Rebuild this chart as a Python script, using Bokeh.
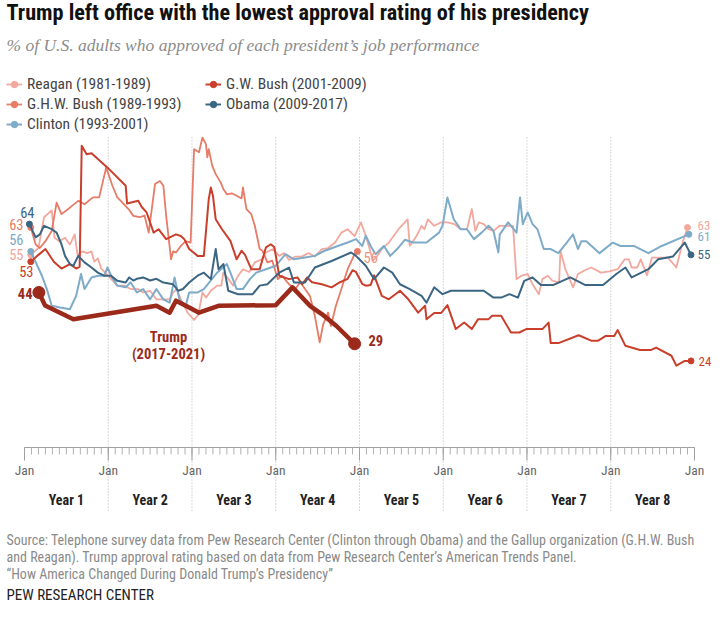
import numpy as np
from bokeh.plotting import figure
from bokeh.models import Range1d, Legend, LegendItem
from bokeh.core.properties import value
from bokeh.embed import file_html
from bokeh.resources import INLINE

# ---------------- data (months since inauguration, % approve) ----------------
reagan_m = [0.9,2.0,2.8,3.9,4.3,5.0,5.8,6.5,7.2,7.6,8.3,9.0,9.6,10.0,10.5,11.0,11.7,12.4,13.3,14.3,15.2,16.3,17.0,18.0,18.9,19.9,20.8,21.3,21.8,22.4,23.4,24.3,24.9,25.5,26.0,26.7,27.6,28.2,28.5,29.2,29.9,30.6,31.3,32.2,33.0,34.0,34.6,35.6,36.5,37.2,37.9,38.8,39.7,40.7,41.6,42.6,43.5,44.5,45.4,46.3,47.3,48.2,48.9,49.6,49.9,50.5,51.2,52.2,53.6,54.9,55.2,56.2,56.9,57.3,57.8,58.7,59.7,60.6,61.6,62.5,63.4,64.1,64.6,65.1,65.8,66.5,67.2,68.1,69.1,70.0,70.5,71.2,72.1,72.8,73.7,74.2,75.0,75.6,76.6,76.8,77.5,78.6,79.3,80.3,81.2,82.6,83.8,85.0,86.0,86.6,87.0,87.8,88.3,89.2,89.9,90.8,92.2,93.4,94.3,95.0]
reagan_v = [55,57,66,68,60,59,60,58,61,55,56,55.5,56,53,54,51,49.5,48,46,46,45,45,44,44.5,42,42,42,44,45,42,38,36,37.5,44,42.5,44.5,46,46,49.8,48,46,48.9,50.8,50,52.8,53.7,55.7,56.7,54.7,55.5,53.5,54.5,54.5,55.5,54.5,56.7,57,58.6,61.5,62.5,60.5,64.5,60.6,55.7,53.3,54.5,56.7,58.6,62.5,65.4,57.6,60.6,63.5,62.5,65.4,63.5,64.5,64.5,64,62.5,62.5,68.4,62,64.5,64,62.5,62,63.5,63.5,63.5,47.9,48.9,49.4,46.4,43.5,47.9,48.9,47.5,46.9,56.2,50.8,45.5,49.4,50.5,51.3,49.8,50.2,50.8,53.7,53.7,51.3,51.3,53.7,49,54.2,54.2,54.2,51.3,58.6,63]

ghwb_m = [0.9,1.6,2.2,3.0,3.9,4.6,5.3,6.5,7.7,8.6,9.8,10.7,11.7,12.6,13.3,13.8,14.9,15.6,16.5,17.2,17.8,18.7,19.4,19.9,20.3,21.0,21.3,21.7,22.4,23.1,23.8,24.3,25.0,25.5,26.0,26.2,26.4,26.9,27.4,28.1,28.5,29.0,29.7,30.4,31.1,31.3,31.8,32.5,33.0,33.7,34.1,34.8,35.5,36.3,36.9,37.9,38.8,39.5,40.2,40.9,41.6,42.3,42.8,43.5,43.9,44.6,45.4,46.3,47.3,47.7]
ghwb_v = [63,58,57,59,62,70.3,66.9,68.8,70.8,69.8,71.8,71.8,80.5,75.2,71.8,70.8,68.4,66.4,66,66.5,61.5,75.7,76.6,75.2,66.4,53.7,56,55.7,57.6,59,58.6,85.9,85,89.3,87.4,83.5,85.9,81,78.6,76.2,74.2,72.7,73,72.3,71.5,74.7,68.4,66.9,63.5,56.7,56.2,52.8,53.3,47.9,48.9,46.4,45,47,45,43,37.2,29.4,34.7,38.1,34.2,40,45,50.8,55.2,56]

clinton_m = [0.9,1.8,2.5,3.2,3.9,5.1,6.5,7.4,8.1,8.6,9.6,10.5,11.4,11.9,12.4,13.3,14.5,15.2,16.1,17.0,18.0,18.9,19.9,20.8,21.5,22.2,23.1,23.6,24.8,25.7,27.6,29.0,29.5,30.4,31.3,32.3,33.2,34.6,36.0,37.4,38.6,40.2,41.6,43.0,44.9,46.3,47.5,48.4,48.9,49.6,50.3,51.5,52.4,53.4,54.5,55.7,57.6,59.4,59.9,60.6,61.5,62.5,63.4,64.4,65.5,66.5,67.2,67.9,68.1,69.3,70.5,71.0,71.4,72.1,72.8,73.5,74.4,75.4,76.5,77.7,78.6,79.3,79.8,80.5,82.4,84.3,85.4,87.3,89.4,91.3,95.2]
clinton_v = [56,52,48.9,45,40.1,39.6,39.1,43,49.4,45,48.4,48.9,48.9,51.3,48.9,46,45.5,47,44,45,42,45,42,41,48.4,42,40.1,44,44,45,49.8,52.3,49.8,45,45,47.9,49.8,50.8,51.8,55.2,53.7,54.2,54.7,56.2,57.6,58.6,59.6,57.6,60.6,57.6,55.2,57.6,54.7,56.7,59.4,58.6,58.6,61.5,63.5,71.8,65.4,62.5,62.5,59.6,61.5,63.5,62,55.7,61,64.5,61.5,71.8,64,67.4,64,62.5,56.7,56.7,55.5,58.6,61,56.7,59,59,55.5,58.6,57.6,57.6,55.5,57.6,61]

gwbush_m = [0.9,2.0,3.0,4.2,5.3,6.5,7.4,7.9,8.2,8.9,9.6,11.9,14.5,14.7,16.3,16.8,17.5,18.5,19.2,20.3,21.7,22.4,22.9,23.6,24.8,25.7,26.4,26.7,27.0,27.4,28.3,29.5,30.4,31.1,31.6,32.5,33.7,34.6,35.3,35.8,36.5,37.9,39.1,39.8,40.5,41.2,42.6,44.0,45.2,46.3,47.0,47.5,48.4,48.9,49.6,50.1,51.2,52.2,53.8,55.0,56.4,57.4,57.6,58.7,59.7,60.6,61.8,63.0,64.1,65.0,66.5,67.0,68.3,69.7,70.9,71.9,74.2,75.1,75.4,76.5,79.4,81.2,82.2,83.3,84.5,85.0,86.1,88.2,89.8,90.5,92.7,93.4,94.6,95.5]
gwbush_v = [53,55,56.7,53,51,52.3,51,51.5,86.9,84.4,84.7,80.5,75.2,70,70.8,69,67.4,61.5,62.5,59.6,61,60.5,59.6,56.7,54.7,54.7,71.3,74.7,72.3,65.4,62.5,59.1,53.7,56.2,55,50.8,50.8,57.2,58.1,57.2,48.9,47.9,48.4,46.4,48.4,47,46.4,45.5,47,48,50.5,50,46.5,46,46.2,49,43,42,44.5,42,38.1,40.1,36.2,38,38,40.3,33.3,35.2,33.3,36.2,36.2,37.2,37.2,32.3,32.3,33.3,33.3,35.2,29.2,29.2,31.5,29.9,29.9,31.3,31.3,33,28.4,27.2,27.2,27.9,25.5,22.6,24,24]

obama_m = [0.7,1.6,2.2,2.8,3.9,4.6,5.3,5.8,6.5,7.0,7.7,8.6,9.6,10.5,11.4,12.4,13.3,14.5,15.0,15.6,16.1,17.0,18.0,18.9,19.9,21.3,22.0,22.7,23.6,24.8,25.7,26.7,27.4,27.8,28.5,29.2,30.6,32.7,33.7,34.8,36.5,37.9,38.6,40.2,41.6,44.0,46.8,47.5,48.9,50.1,51.5,52.7,53.8,55.2,56.9,57.6,58.7,59.9,61.1,63.4,65.8,67.2,68.3,69.5,70.7,71.6,72.8,74.0,75.8,78.2,80.3,82.9,84.8,86.1,87.0,89.4,90.8,92.9,94.6,95.5]
obama_v = [64,60.1,61,63.5,62.5,61.5,58.1,54.7,52.3,51.8,54.7,52.8,51.3,49.8,48.9,48.9,47.4,46.9,48.4,47.5,48,48.4,47.5,48,46.9,46.4,44.5,45,46.9,48.9,49.8,47.9,56.7,50.8,52.3,44.5,43.5,43.5,46,46.4,49.8,51.3,46.9,46.9,51.3,53.2,55.7,54.7,51.8,47.9,51.3,49.8,46.4,45,43,41,45.5,43.5,44.5,44.5,44.5,42.5,42.5,43.5,42.5,47.4,48.4,46.2,46.2,48.4,46.2,46.2,49.4,51.3,48.4,50.8,53.7,54.5,58.6,55]

trump_m = [2.06,2.95,7.0,18.9,20.8,21.7,23.6,25.0,27.8,36.0,38.4,40.9,42.6,44.7,47.3]
trump_v = [44,40.2,36.2,40.1,38.1,41.6,39.6,38.1,40.1,40.3,45.5,40.1,37.7,34.2,29]

tick_months = list(range(0, 97))
jan_months = [0, 12, 24, 36, 48, 60, 72, 84, 96]
jan_labels = ["Jan"] * 9
grid_months = [12, 24, 36, 48, 60, 72, 84]
year_months = [6, 18, 30, 42, 54, 66, 78, 90]
year_labels = ["Year 1", "Year 2", "Year 3", "Year 4", "Year 5", "Year 6", "Year 7", "Year 8"]

# ---------------- styling ----------------
C_REAGAN = "#f3a89e"
C_GHWB = "#e67b67"
C_GWB = "#c93f2c"
C_OBAMA = "#3b6683"
C_CLINTON = "#7eabc8"
C_TRUMP = "#9b2a1b"
NARROW = "Roboto Condensed, Roboto, sans-serif"
SERIF = "Liberation Serif"

W, H = 712, 603
PX0, PXM = 32.0, 6.979     # page x of month 0, px per month
PY63, PYV = 235.0, 3.42    # page y of 63%, px per point


def X(px):
    return (px - PX0) / PXM


def Y(py):
    return 63 - (py - PY63) / PYV


p = figure(width=W, height=H, output_backend="svg", toolbar_location=None,
           x_range=Range1d(X(8), X(8 + W)), y_range=Range1d(Y(8 + H), Y(8)),
           x_axis_location=None, y_axis_location=None, min_border=0)
p.outline_line_color = None
p.grid.visible = False
p.background_fill_color = "white"


def txt(px, py, s, color, size, bold=False, align="left", font=NARROW, italic=False):
    style = "bold" if bold else ("italic" if italic else "normal")
    p.text(x=[X(px)], y=[Y(py)], text=[s], text_color=color, text_font=value(font),
           text_font_size=f"{size}px", text_font_style=style, text_align=align,
           text_baseline="middle")


# gridlines (dotted, at each January)
p.segment(x0=grid_months, x1=grid_months, y0=[Y(145)] * len(grid_months),
          y1=[Y(520)] * len(grid_months), line_color="#b5b5b5", line_width=1,
          line_dash="1 2")

# x axis: baseline, minor and major ticks, labels
p.segment(x0=[0], x1=[96], y0=[Y(455)], y1=[Y(455)], line_color="#a0a0a0", line_width=1)
p.segment(x0=tick_months, x1=tick_months, y0=[Y(455)] * len(tick_months),
          y1=[Y(462)] * len(tick_months), line_color="#b0b0b0", line_width=1)
p.segment(x0=jan_months, x1=jan_months, y0=[Y(455)] * len(jan_months),
          y1=[Y(468)] * len(jan_months), line_color="#a0a0a0", line_width=1)
p.text(x=jan_months, y=[Y(477)] * len(jan_months), text=jan_labels, text_color="#666666",
       text_font=value(NARROW), text_font_size="13.5px", text_align="center",
       text_baseline="middle")
p.text(x=year_months, y=[Y(507)] * len(year_months), text=year_labels, text_color="#222222",
       text_font=value(NARROW), text_font_size="14px", text_font_style="bold",
       text_align="center", text_baseline="middle")

# series
series = [
    ("Reagan (1981-1989)", reagan_m, reagan_v, C_REAGAN, 1.8),
    ("G.H.W. Bush (1989-1993)", ghwb_m, ghwb_v, C_GHWB, 1.8),
    ("Clinton (1993-2001)", clinton_m, clinton_v, C_CLINTON, 2.0),
    ("G.W. Bush (2001-2009)", gwbush_m, gwbush_v, C_GWB, 2.0),
    ("Obama (2009-2017)", obama_m, obama_v, C_OBAMA, 2.0),
]
items = {}
for name, m, v, c, w in series:
    r = p.line(m, v, line_color=c, line_width=w, line_join="round")
    d = p.scatter([m[0], m[-1]], [v[0], v[-1]], size=6, color=c)
    items[name] = LegendItem(label=name, renderers=[r, d])

p.line(trump_m, trump_v, line_color=C_TRUMP, line_width=4.5, line_join="round", line_cap="round")
p.scatter([trump_m[0], trump_m[-1]], [trump_v[0], trump_v[-1]], size=12, color=C_TRUMP)

legend = Legend(items=[items["Reagan (1981-1989)"], items["G.H.W. Bush (1989-1993)"],
                       items["Clinton (1993-2001)"], items["G.W. Bush (2001-2009)"],
                       items["Obama (2009-2017)"]],
                location=(6, 469), orientation="vertical", nrows=3,
                glyph_width=16, glyph_height=20, label_height=20, label_standoff=5,
                spacing=0, padding=0, margin=0, label_width=178,
                border_line_color=None, background_fill_alpha=0,
                label_text_font=NARROW, label_text_font_size="15.5px",
                label_text_color="#444444")
p.add_layout(legend)

# end labels
txt(42, 220, "64", C_OBAMA, 14.5, align="right")
txt(31, 232, "63", C_GHWB, 14.5, align="right")
txt(31, 247, "56", C_CLINTON, 14.5, align="right")
txt(31, 262, "55", C_REAGAN, 14.5, align="right")
txt(41, 279, "53", C_GWB, 14.5, align="right")
txt(40, 301, "44", C_TRUMP, 14.5, bold=True, align="right")
txt(705, 233, "63", C_REAGAN, 13)
txt(705, 244, "61", C_CLINTON, 13)
txt(705, 262, "55", C_OBAMA, 13)
txt(706, 369, "24", C_GWB, 13)
txt(376, 348, "29", C_TRUMP, 14.5, bold=True)
txt(371, 265, "56", "#ee9585", 14.5)
txt(176, 345, "Trump", C_TRUMP, 14.5, bold=True, align="center")
txt(176, 362, "(2017-2021)", C_TRUMP, 14.5, bold=True, align="center")

# titles and footer
txt(14, 19, "Trump left office with the lowest approval rating of his presidency", "#111111", 22.2, bold=True)
txt(14, 52, "% of U.S. adults who approved of each president\u2019s job performance", "#8c8c8c", 17.5,
    italic=True, font=SERIF)
txt(14, 547, "Source: Telephone survey data from Pew Research Center (Clinton through Obama) and the Gallup organization (G.H.W. Bush",
    "#8a8a8a", 14)
txt(14, 564, "and Reagan). Trump approval rating based on data from Pew Research Center\u2019s American Trends Panel.",
    "#8a8a8a", 14)
txt(14, 581, "\u201cHow America Changed During Donald Trump\u2019s Presidency\u201d", "#8a8a8a", 14)
txt(14, 602, "PEW RESEARCH CENTER", "#222222", 15)

open("out.html", "w").write(file_html(p, INLINE))
